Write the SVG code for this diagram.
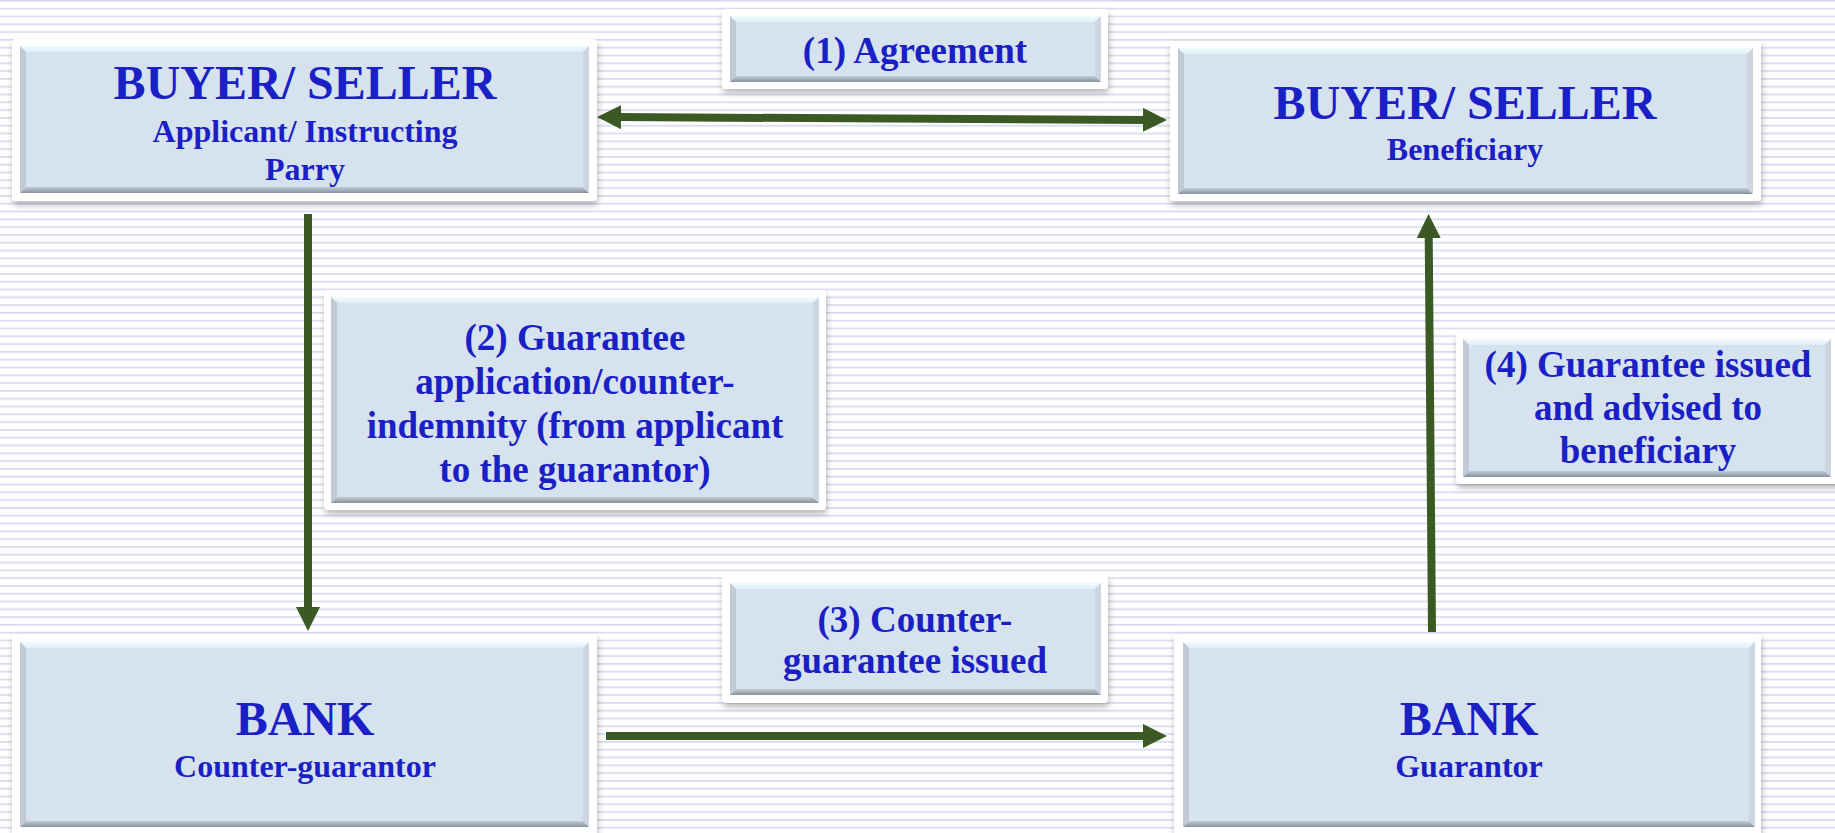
<svg xmlns="http://www.w3.org/2000/svg" width="1835" height="833" viewBox="0 0 1835 833">
  <defs>
    <pattern id="stripes" patternUnits="userSpaceOnUse" width="20" height="7.8">
      <rect x="0" y="0" width="20" height="7.8" fill="#ffffff"/>
      <rect x="0" y="0" width="20" height="1.7" fill="#d6dcee"/>
    </pattern>
    <filter id="shadow" x="-10%" y="-20%" width="120%" height="140%">
      <feDropShadow dx="1" dy="4" stdDeviation="3" flood-color="#000000" flood-opacity="0.28"/>
    </filter>
    <linearGradient id="bot" x1="0" y1="0" x2="0" y2="1">
      <stop offset="0" stop-color="#c2ccd5"/>
      <stop offset="1" stop-color="#86939e"/>
    </linearGradient>
    <linearGradient id="top" x1="0" y1="0" x2="0" y2="1">
      <stop offset="0" stop-color="#f2fbff"/>
      <stop offset="1" stop-color="#dfeef8"/>
    </linearGradient>
    <marker id="head" markerUnits="userSpaceOnUse" markerWidth="24" markerHeight="24" viewBox="0 0 24 24" refX="4" refY="12" orient="auto-start-reverse">
      <path d="M0,0 L24,12 L0,24 z" fill="#3b5a23"/>
    </marker>
    <style>
      .frame { fill: #ffffff; filter: url(#shadow); }
      .face { fill: #d6e2ee; }
      .bt { fill: url(#top); }
      .bb { fill: url(#bot); }
      .bl { fill: #bfcad5; }
      .br { fill: #cbd6e1; }
      text { font-family: "Liberation Serif", "Times New Roman", serif; font-weight: bold; fill: #1b1fc6; text-anchor: middle; }
      .big { font-size: 48px; }
      .sub { font-size: 32px; }
      .lbl { font-size: 37px; }
      .conn { stroke: #3b5a23; stroke-width: 8; fill: none; marker-end: url(#head); }
    </style>
  </defs>

  <rect x="0" y="0" width="1835" height="833" fill="url(#stripes)"/>

  <g id="connectors">
    <line class="conn" x1="617" y1="117.1" x2="1147" y2="119.9" marker-start="url(#head)"/>
    <line class="conn" x1="308" y1="214" x2="308" y2="611"/>
    <line class="conn" x1="606" y1="736" x2="1147" y2="736"/>
    <line class="conn" x1="1432" y1="632" x2="1428.7" y2="234"/>
  </g>

  <g id="node-applicant">
    <rect class="frame" x="12" y="39" width="585" height="162" rx="4"/>
    <rect class="face" x="20" y="46" width="569" height="147"/>
    <polygon class="bt" points="20,46 589,46 583,52 26,52"/>
    <polygon class="bb" points="20,193 589,193 583,187 26,187"/>
    <polygon class="bl" points="20,46 26,52 26,187 20,193"/>
    <polygon class="br" points="589,46 583,52 583,187 589,193"/>
    <text class="big" x="305" y="99">BUYER/ SELLER</text>
    <text class="sub" x="305" y="142">Applicant/ Instructing</text>
    <text class="sub" x="305" y="180">Parry</text>
  </g>

  <g id="label-agreement">
    <rect class="frame" x="722" y="9" width="386" height="80" rx="4"/>
    <rect class="face" x="730" y="16" width="371" height="66"/>
    <polygon class="bt" points="730,16 1101,16 1095,22 736,22"/>
    <polygon class="bb" points="730,82 1101,82 1095,76 736,76"/>
    <polygon class="bl" points="730,16 736,22 736,76 730,82"/>
    <polygon class="br" points="1101,16 1095,22 1095,76 1101,82"/>
    <text class="lbl" x="915" y="63">(1) Agreement</text>
  </g>

  <g id="node-beneficiary">
    <rect class="frame" x="1170" y="41" width="591" height="160" rx="4"/>
    <rect class="face" x="1178" y="48" width="575" height="146"/>
    <polygon class="bt" points="1178,48 1753,48 1747,54 1184,54"/>
    <polygon class="bb" points="1178,194 1753,194 1747,188 1184,188"/>
    <polygon class="bl" points="1178,48 1184,54 1184,188 1178,194"/>
    <polygon class="br" points="1753,48 1747,54 1747,188 1753,194"/>
    <text class="big" x="1465" y="119">BUYER/ SELLER</text>
    <text class="sub" x="1465" y="160">Beneficiary</text>
  </g>

  <g id="label-application">
    <rect class="frame" x="324" y="290" width="502" height="220" rx="4"/>
    <rect class="face" x="331" y="297" width="488" height="206"/>
    <polygon class="bt" points="331,297 819,297 813,303 337,303"/>
    <polygon class="bb" points="331,503 819,503 813,497 337,497"/>
    <polygon class="bl" points="331,297 337,303 337,497 331,503"/>
    <polygon class="br" points="819,297 813,303 813,497 819,503"/>
    <text class="lbl" x="575" y="350">(2) Guarantee</text>
    <text class="lbl" x="575" y="394">application/counter-</text>
    <text class="lbl" x="575" y="438">indemnity (from applicant</text>
    <text class="lbl" x="575" y="482">to the guarantor)</text>
  </g>

  <g id="label-issued-advised">
    <rect class="frame" x="1456" y="333" width="384" height="151" rx="4"/>
    <rect class="face" x="1463" y="339" width="368" height="138"/>
    <polygon class="bt" points="1463,339 1831,339 1825,345 1469,345"/>
    <polygon class="bb" points="1463,477 1831,477 1825,471 1469,471"/>
    <polygon class="bl" points="1463,339 1469,345 1469,471 1463,477"/>
    <polygon class="br" points="1831,339 1825,345 1825,471 1831,477"/>
    <text class="lbl" x="1648" y="377">(4) Guarantee issued</text>
    <text class="lbl" x="1648" y="420">and advised to</text>
    <text class="lbl" x="1648" y="463">beneficiary</text>
  </g>

  <g id="label-counter-guarantee">
    <rect class="frame" x="722" y="575" width="386" height="128" rx="4"/>
    <rect class="face" x="730" y="583" width="371" height="112"/>
    <polygon class="bt" points="730,583 1101,583 1095,589 736,589"/>
    <polygon class="bb" points="730,695 1101,695 1095,689 736,689"/>
    <polygon class="bl" points="730,583 736,589 736,689 730,695"/>
    <polygon class="br" points="1101,583 1095,589 1095,689 1101,695"/>
    <text class="lbl" x="915" y="632">(3) Counter-</text>
    <text class="lbl" x="915" y="673">guarantee issued</text>
  </g>

  <g id="node-counter-guarantor">
    <rect class="frame" x="12" y="634" width="585" height="210" rx="4"/>
    <rect class="face" x="20" y="642" width="569" height="185"/>
    <polygon class="bt" points="20,642 589,642 583,648 26,648"/>
    <polygon class="bb" points="20,827 589,827 583,821 26,821"/>
    <polygon class="bl" points="20,642 26,648 26,821 20,827"/>
    <polygon class="br" points="589,642 583,648 583,821 589,827"/>
    <text class="big" x="305" y="735">BANK</text>
    <text class="sub" x="305" y="777">Counter-guarantor</text>
  </g>

  <g id="node-guarantor">
    <rect class="frame" x="1174" y="634" width="587" height="210" rx="4"/>
    <rect class="face" x="1183" y="642" width="572" height="185"/>
    <polygon class="bt" points="1183,642 1755,642 1749,648 1189,648"/>
    <polygon class="bb" points="1183,827 1755,827 1749,821 1189,821"/>
    <polygon class="bl" points="1183,642 1189,648 1189,821 1183,827"/>
    <polygon class="br" points="1755,642 1749,648 1749,821 1755,827"/>
    <text class="big" x="1469" y="735">BANK</text>
    <text class="sub" x="1469" y="777">Guarantor</text>
  </g>
</svg>
